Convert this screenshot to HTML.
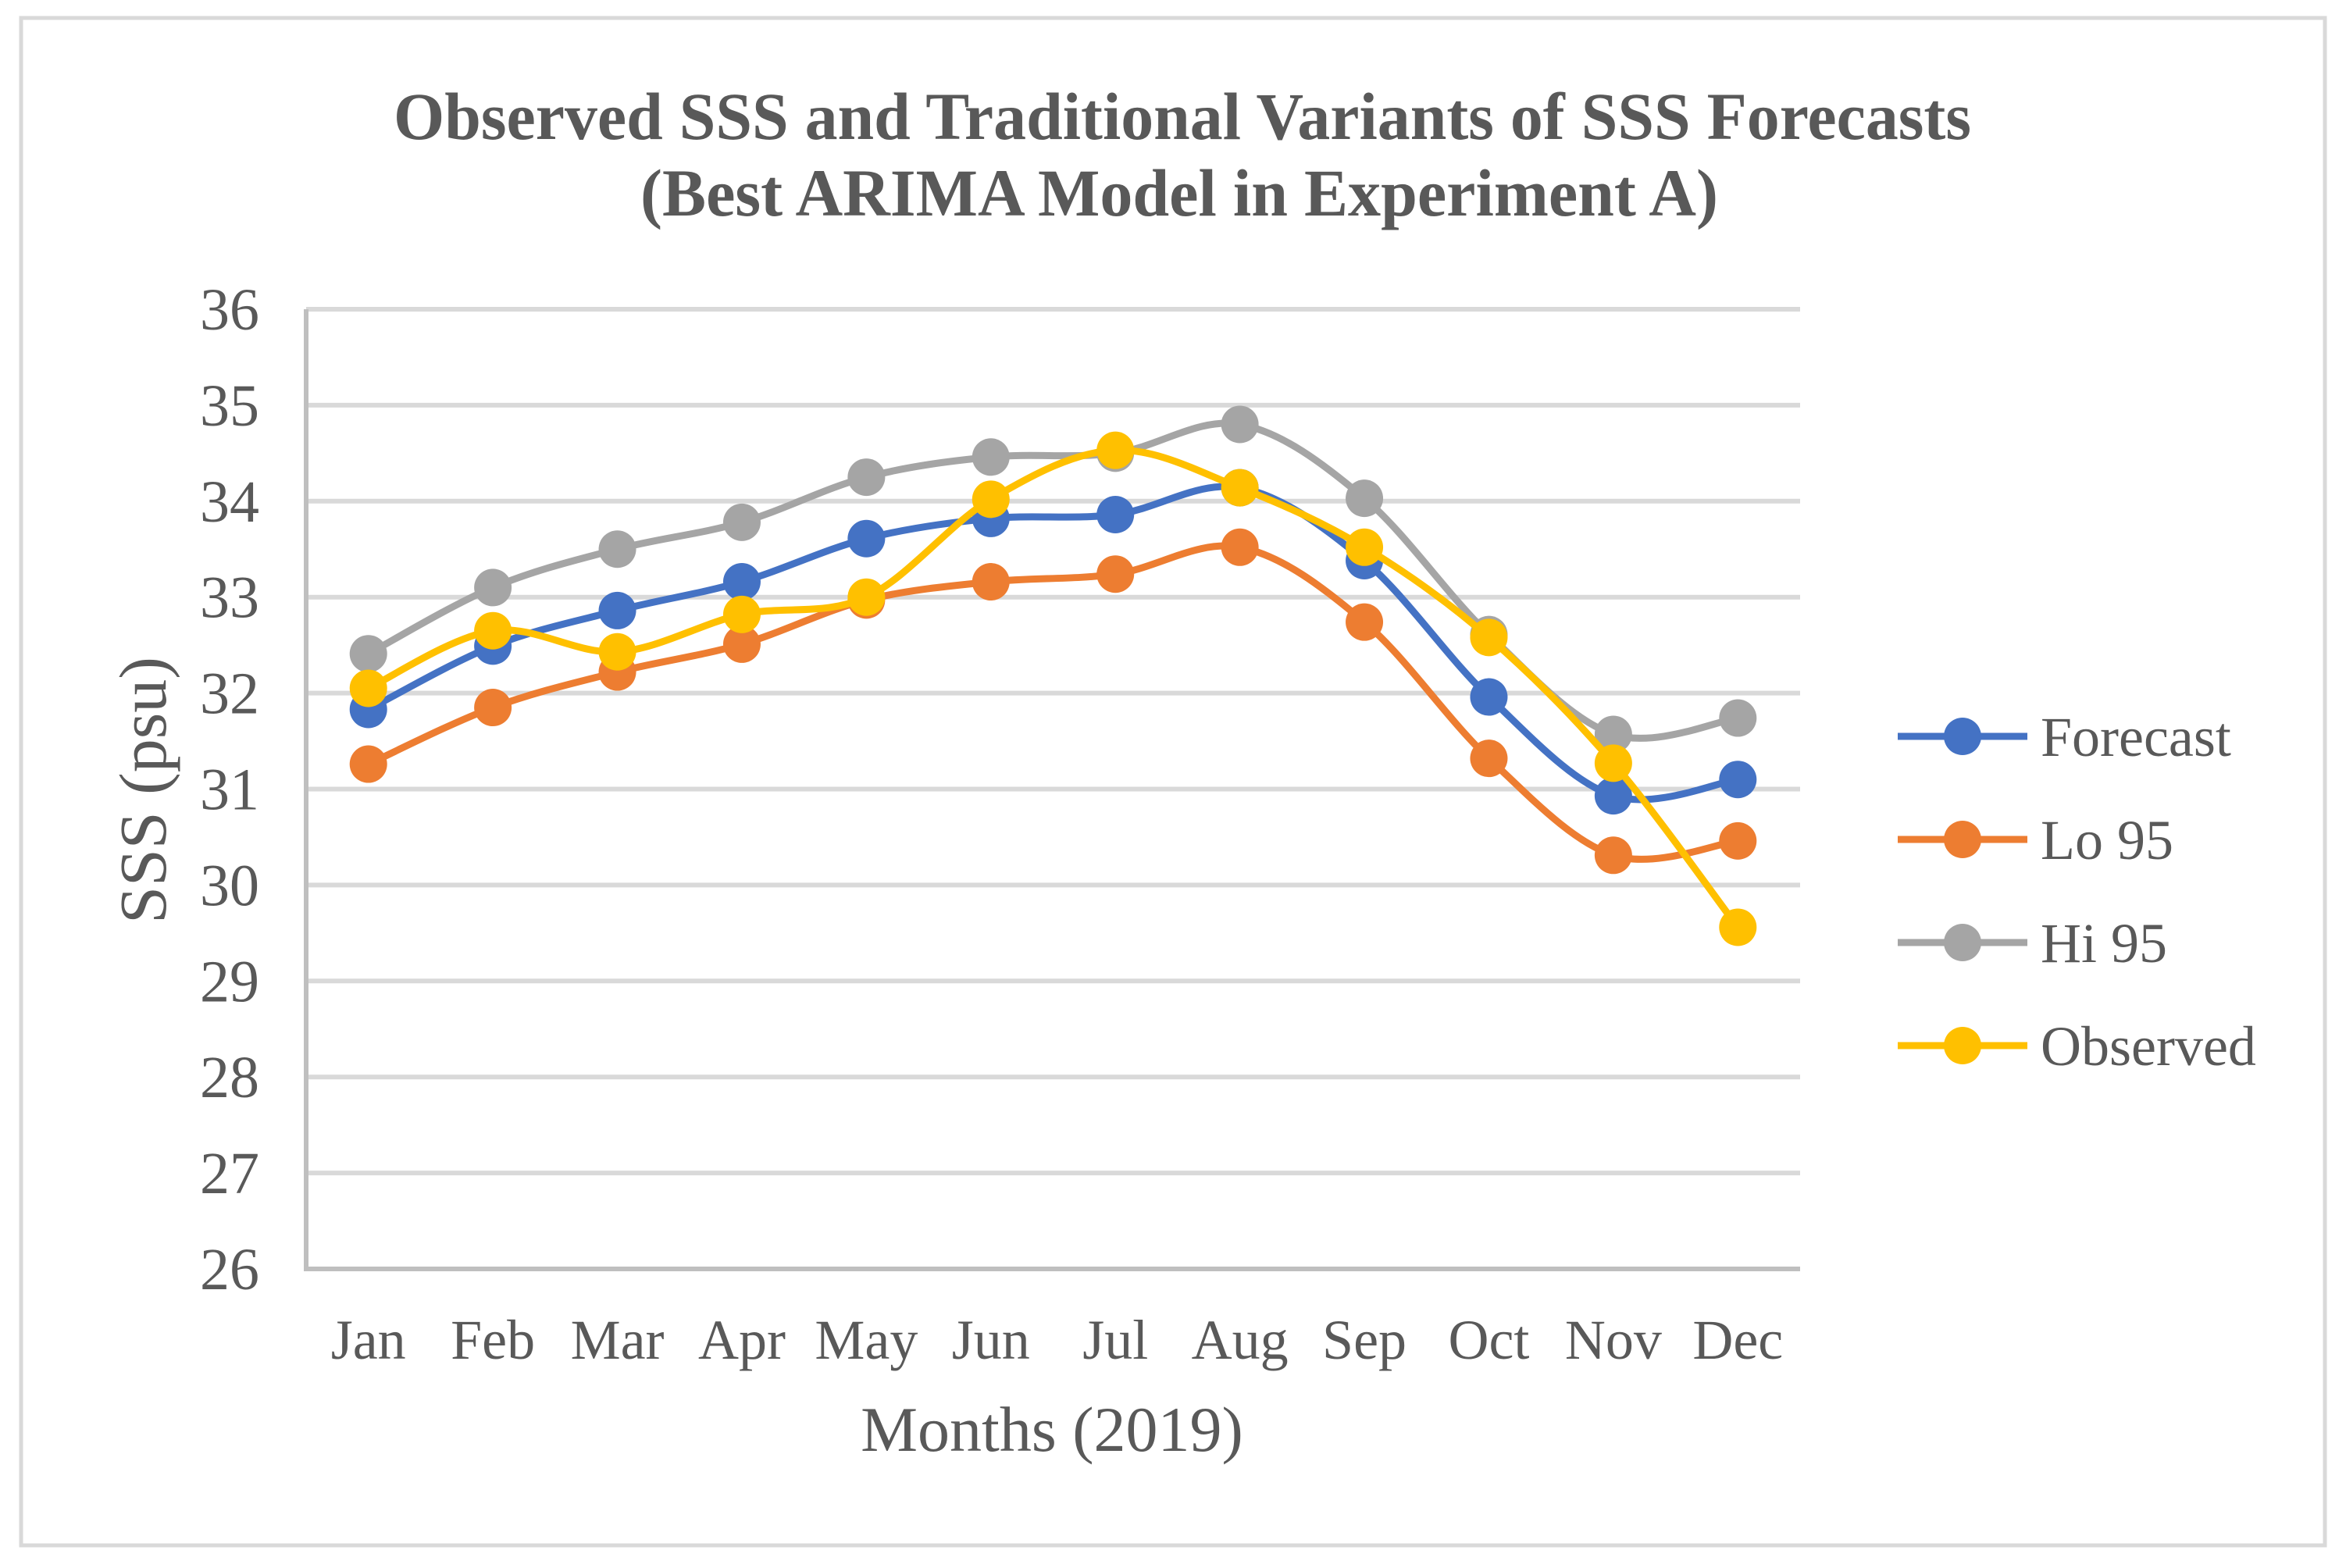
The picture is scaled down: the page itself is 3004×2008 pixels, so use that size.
<!DOCTYPE html>
<html><head><meta charset="utf-8"><style>
html,body{margin:0;padding:0;background:#fff}
svg{display:block}
text{font-family:"Liberation Serif",serif;fill:#595959}
</style></head><body>
<svg id="chart" width="3004" height="2008" viewBox="0 0 3004 2008" xmlns="http://www.w3.org/2000/svg">
<rect x="27" y="23" width="2950" height="1956" fill="#fff" stroke="#d9d9d9" stroke-width="5"/>
<text x="1514" y="178" text-anchor="middle" font-size="86" font-weight="bold" textLength="2020" lengthAdjust="spacingAndGlyphs">Observed SSS and Traditional Variants of SSS Forecasts</text>
<text x="1510" y="276" text-anchor="middle" font-size="86" font-weight="bold" textLength="1380" lengthAdjust="spacingAndGlyphs">(Best ARIMA Model in Experiment A)</text>
<g id="grid"></g>
<g id="axes"></g>
<g id="series"></g>
<g id="legend"></g>
<text transform="translate(212,1012) rotate(-90)" text-anchor="middle" font-size="86">SSS (psu)</text>
<text x="1347" y="1858" text-anchor="middle" font-size="82">Months (2019)</text>
</svg>
<script>
const categories=["Jan","Feb","Mar","Apr","May","Jun","Jul","Aug","Sep","Oct","Nov","Dec"];
const forecast=[31.83,32.49,32.86,33.16,33.61,33.82,33.86,34.14,33.38,31.96,30.93,31.10];
const lo95=[31.26,31.85,32.22,32.51,32.97,33.16,33.24,33.52,32.74,31.32,30.31,30.46];
const hi95=[32.41,33.10,33.50,33.78,34.25,34.46,34.50,34.80,34.03,32.61,31.57,31.74];
const observed=[32.05,32.65,32.43,32.82,33.00,34.02,34.53,34.14,33.52,32.58,31.27,29.56];
const yTicks=[26,27,28,29,30,31,32,33,34,35,36];
const seriesNames=["Forecast","Lo 95","Hi 95","Observed"];
const seriesColors=["#4472c4","#ed7d31","#a5a5a5","#ffc000"];

const NS="http://www.w3.org/2000/svg";
const L=392,R=2305,T=396,B=1625,yMin=26,yMax=36;
const bw=(R-L)/categories.length;
const xs=i=>L+bw*(i+0.5);
const ys=v=>B-(v-yMin)/(yMax-yMin)*(B-T);
function mk(tag,attrs,parent){const e=document.createElementNS(NS,tag);for(const k in attrs)e.setAttribute(k,attrs[k]);parent.appendChild(e);return e;}
const grid=document.getElementById('grid'),axes=document.getElementById('axes'),ser=document.getElementById('series'),leg=document.getElementById('legend');
yTicks.forEach(t=>{
  if(t!==yMin){const g=mk('line',{x1:L,x2:R,y1:ys(t),y2:ys(t),stroke:'#d9d9d9','stroke-width':6},grid);
  
  }
  const tx=mk('text',{x:332,y:ys(t)+26,'text-anchor':'end','font-size':76},axes);tx.textContent=t;
  
  
});
const ya=mk('line',{x1:L,x2:L,y1:T,y2:B,stroke:'#bfbfbf','stroke-width':6},axes);


const xa=mk('line',{x1:L-3,x2:R,y1:B,y2:B,stroke:'#bfbfbf','stroke-width':6},axes);


categories.forEach((c,i)=>{
  const tx=mk('text',{x:xs(i),y:1740,'text-anchor':'middle','font-size':72},axes);tx.textContent=c;
  
  
});
function smooth(pts){
  let d='M'+pts[0][0]+','+pts[0][1];
  for(let i=0;i<pts.length-1;i++){
    const p0=pts[Math.max(i-1,0)],p1=pts[i],p2=pts[i+1],p3=pts[Math.min(i+2,pts.length-1)];
    const t=1/6;
    const c1=[p1[0]+(p2[0]-p0[0])*t,p1[1]+(p2[1]-p0[1])*t];
    const c2=[p2[0]-(p3[0]-p1[0])*t,p2[1]-(p3[1]-p1[1])*t];
    d+=' C'+c1[0]+','+c1[1]+' '+c2[0]+','+c2[1]+' '+p2[0]+','+p2[1];
  }
  return d;
}
const allSeries=[forecast,lo95,hi95,observed];
allSeries.forEach((vals,s)=>{
  const g=mk('g',{},ser);
  
  
  const pts=vals.map((v,i)=>[xs(i),ys(v)]);
  const p=mk('path',{d:smooth(pts),fill:'none',stroke:seriesColors[s],'stroke-width':9,'stroke-linecap':'round'},g);
  
  
  pts.forEach((pt,i)=>{
    const c=mk('circle',{cx:pt[0],cy:pt[1],r:24,fill:seriesColors[s]},g);
    
    
  });
});
seriesNames.forEach((n,s)=>{
  const y=943+s*132;
  const g=mk('g',{},leg);
  
  
  mk('line',{x1:2430,x2:2596,y1:y,y2:y,stroke:seriesColors[s],'stroke-width':9},g);
  mk('circle',{cx:2513,cy:y,r:24,fill:seriesColors[s]},g);
  const tx=mk('text',{x:2613,y:y+25,'font-size':72},g);tx.textContent=n;
});
</script>
</body></html>
